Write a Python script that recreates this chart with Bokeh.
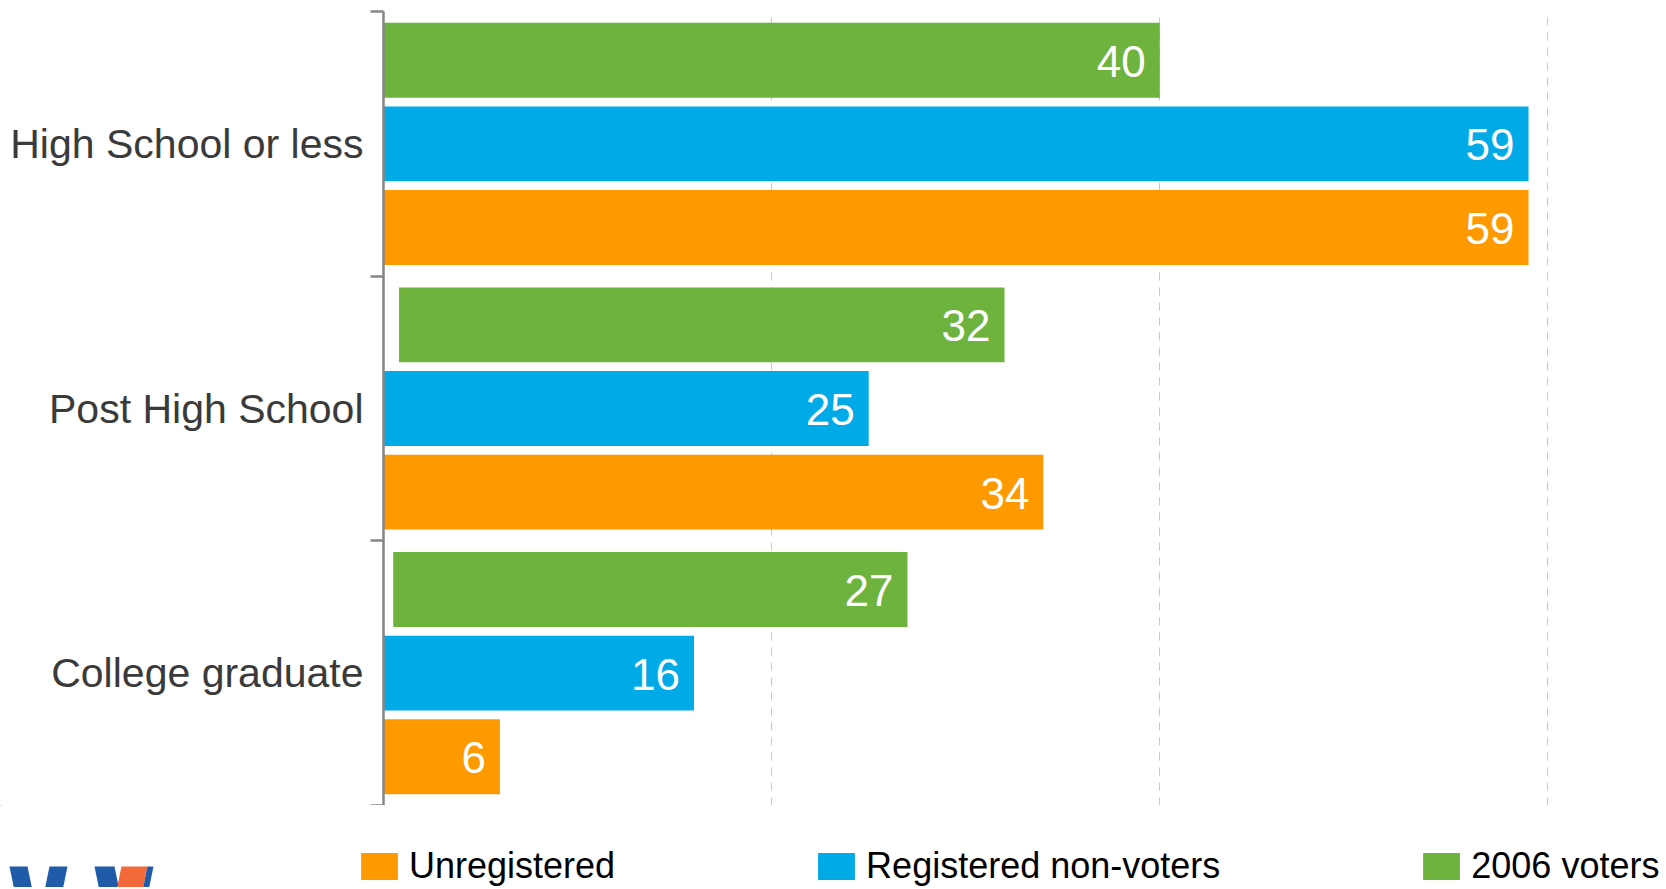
from bokeh.plotting import figure
from bokeh.layouts import column
from bokeh.models import (Range1d, LinearAxis, FixedTicker, Legend, LegendItem, ColumnDataSource)
from bokeh.transform import dodge
from bokeh.core.properties import value
from bokeh.embed import file_html
from bokeh.resources import INLINE

# ---- data ----
categories = ["High School or less", "Post High School", "College graduate"]
unregistered = [59, 34, 6]
registered_non_voters = [59, 25, 16]
voters_2006 = [40, 32, 27]
voters_2006_left = [0, 0.8, 0.5]
series_names = ["Unregistered", "Registered non-voters", "2006 voters"]
grid_ticks = [20, 40, 60]

ORANGE = "#FF9900"
BLUE = "#00AAE6"
GREEN = "#6FB33F"
FONT = "Liberation Sans"
W = 1660

n = len(categories)
ypos = [n - i - 0.5 for i in range(n)]          # first category at the top

source = ColumnDataSource(dict(
    y=ypos,
    unreg=unregistered,
    reg=registered_non_voters,
    v06=voters_2006,
    v06_left=voters_2006_left,
    unreg_lbl=[str(v) for v in unregistered],
    reg_lbl=[str(v) for v in registered_non_voters],
    v06_lbl=[str(v) for v in voters_2006],
))

p = figure(width=W, height=805,
           y_range=Range1d(0, n),
           x_range=Range1d(0, 65.8),
           y_axis_location=None,
           output_backend="svg", toolbar_location=None,
           min_border_left=383, min_border_top=11, min_border_right=0, min_border_bottom=0,
           outline_line_color=None)
p.frame_align = False

# x axis: hidden, only drives the dashed grid
xa = p.xaxis[0]
xa.ticker = FixedTicker(ticks=grid_ticks)
xa.visible = False

p.xgrid.grid_line_color = "#C8C8C8"
p.xgrid.grid_line_dash = "8 7"
p.xgrid.grid_line_width = 1
p.ygrid.grid_line_color = None

# tick axis at category boundaries
tick_axis = LinearAxis(ticker=FixedTicker(ticks=list(range(n + 1))))
tick_axis.axis_line_color = "#868686"
tick_axis.axis_line_width = 2.5
tick_axis.major_tick_line_color = "#868686"
tick_axis.major_tick_line_width = 2.5
tick_axis.major_tick_out = 13
tick_axis.major_tick_in = 0
tick_axis.minor_tick_line_color = None
tick_axis.major_label_text_font_size = "0px"
tick_axis.major_label_text_color = None
tick_axis.major_label_standoff = 0
p.add_layout(tick_axis, "left")

# category label axis
cat_axis = LinearAxis(ticker=FixedTicker(ticks=ypos),
                      major_label_overrides={y: c for y, c in zip(ypos, categories)})
cat_axis.axis_line_color = None
cat_axis.major_tick_line_color = None
cat_axis.minor_tick_line_color = None
cat_axis.major_tick_out = 0
cat_axis.major_tick_in = 0
cat_axis.major_label_text_font = FONT
cat_axis.major_label_text_font_size = "41px"
cat_axis.major_label_text_color = "#3A3A3A"
cat_axis.major_label_standoff = 7
p.add_layout(cat_axis, "left")

H = 0.283
STEP = 0.316

p.hbar(y=dodge("y", -STEP), left=0, right="unreg", height=H,
       fill_color=ORANGE, line_color=None, source=source)
p.hbar(y=dodge("y", 0), left=0, right="reg", height=H,
       fill_color=BLUE, line_color=None, source=source)
p.hbar(y=dodge("y", STEP), left="v06_left", right="v06", height=H,
       fill_color=GREEN, line_color=None, source=source)

for col, lbl, off in [("unreg", "unreg_lbl", -STEP), ("reg", "reg_lbl", 0), ("v06", "v06_lbl", STEP)]:
    p.text(x=col, y=dodge("y", off), text=lbl, source=source,
           text_align="right", text_baseline="middle", x_offset=-14, y_offset=1,
           text_color="white", text_font=value(FONT), text_font_size="44px")

# ---- legend strip (separate small figure below the chart) ----
LH = 82
q = figure(width=W, height=LH, x_range=Range1d(0, W), y_range=Range1d(LH, 0),
           output_backend="svg", toolbar_location=None,
           min_border_left=0, min_border_right=0, min_border_top=0, min_border_bottom=0,
           outline_line_color=None, x_axis_location=None, y_axis_location=None)
q.frame_align = False
q.xgrid.visible = False
q.ygrid.visible = False

# decorative logo fragment at bottom-left (partially cut off, as in the reference)
q.patches(xs=[[9, 27, 33, 15], [49, 67, 61, 43], [94, 114, 120, 100]],
          ys=[[61, 61, 90, 90]] * 3, fill_color="#1F5BA8", line_color=None)
q.patches(xs=[[121, 147, 141, 115]], ys=[[61, 61, 90, 90]], fill_color="#F2693A", line_color=None)
q.patches(xs=[[147, 153, 147, 141]], ys=[[61, 61, 90, 90]], fill_color="#1F5BA8", line_color=None)

# legend-only renderers, kept outside the visible strip
def swatch_source():
    return ColumnDataSource(dict(y=[-10 * LH], right=[1]))

l_unreg = q.hbar(y="y", right="right", height=1, fill_color=ORANGE, line_color=None,
                 source=swatch_source())
l_reg = q.hbar(y="y", right="right", height=1, fill_color=BLUE, line_color=None,
               source=swatch_source())
l_v06 = q.hbar(y="y", right="right", height=1, fill_color=GREEN, line_color=None,
               source=swatch_source())

legend = Legend(items=[LegendItem(label=series_names[0], renderers=[l_unreg]),
                       LegendItem(label=series_names[1], renderers=[l_reg]),
                       LegendItem(label=series_names[2], renderers=[l_v06])],
                orientation="horizontal", location=(356, 0), spacing=198,
                glyph_width=46, glyph_height=34, label_standoff=7,
                label_text_font=FONT, label_text_font_size="36px", label_text_color="#000000",
                border_line_color=None, background_fill_alpha=0, padding=0, margin=0)
q.add_layout(legend, "center")

layout = column(p, q, spacing=0)
open("out.html", "w").write(file_html(layout, INLINE))
